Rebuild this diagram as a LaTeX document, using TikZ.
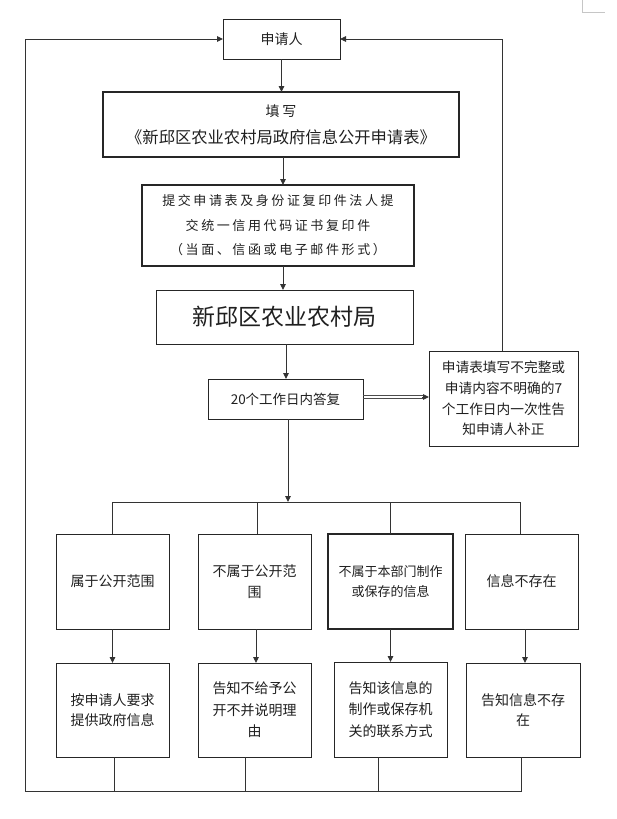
\documentclass[tikz,border=0pt]{standalone}
\usepackage{fontspec}
\setmainfont{Noto Sans CJK SC}
\newfontfamily\cjkwide[LetterSpace=20]{Noto Sans CJK SC}
\usetikzlibrary{arrows.meta}
\newcommand\fsz[2]{\fontsize{#1pt}{#2pt}\selectfont}
\begin{document}
\begin{tikzpicture}[x=1pt,y=-1pt,
  box/.style={draw=black!85, line width=0.9pt, inner sep=0pt, outer sep=0pt, align=center, text=black!88},
  thickbox/.style={box, line width=1.4pt},
  smallbox/.style={box, minimum width=113pt, minimum height=95pt, font=\fsz{14}{20.5}},
  line/.style={draw=black!80, line width=0.9pt},
  arr/.style={line, -{Triangle[length=6pt,width=5.5pt]}}
]
\useasboundingbox (0,0) rectangle (616,819);
% faint corner mark
\draw[gray!45, line width=0.6pt] (582,0) -- (582,12) -- (605,12);

% main column
\node[box, minimum width=117pt, minimum height=40pt, font=\fsz{14}{20}] (app) at (281.5,39) {申请人};
\node[thickbox, minimum width=356pt, minimum height=65pt, font=\fsz{16.3}{27}] (fill) at (281,124.5)
  {{\fsz{14}{27}填\hspace{3pt}写}\\《新邱区农业农村局政府信息公开申请表》};
\node[thickbox, minimum width=272pt, minimum height=81pt, font=\cjkwide\fsz{13}{24.5}] (submit) at (278,225.5)
  {提交申请表及身份证复印件法人提\\交统一信用代码证书复印件\\（当面、信函或电子邮件形式）};
\node[box, minimum width=257pt, minimum height=54pt, font=\fsz{23}{28}] (bureau) at (284.5,317) {新邱区农业农村局};
\node[box, minimum width=155pt, minimum height=40pt, font=\fsz{13.5}{20}] (reply) at (285.5,399) {20个工作日内答复};
\node[box, minimum width=149pt, minimum height=95pt, font=\fsz{13.7}{20.7}] (fix) at (503.5,398.5)
  {申请表填写不完整或\\申请内容不明确的7\\个工作日内一次性告\\知申请人补正};

% top row
\node[smallbox] (A) at (112.5,581.5) {属于公开范围};
\node[smallbox] (B) at (254.5,581.5) {不属于公开范\\围};
\node[smallbox, line width=1.6pt, minimum width=125pt, font=\fsz{13}{19.5}] (C) at (390.5,581.5) {不属于本部门制作\\或保存的信息};
\node[smallbox] (D) at (521.5,581.5) {信息不存在};

% bottom row
\node[smallbox, minimum height=94pt] (A2) at (112.5,710) {按申请人要求\\提供政府信息};
\node[smallbox, minimum height=94pt, font=\fsz{14}{21.5}] (B2) at (254.5,710) {告知不给予公\\开不并说明理\\由};
\node[smallbox, font=\fsz{14}{21.5}] (C2) at (390.5,709.5) {告知该信息的\\制作或保存机\\关的联系方式};
\node[smallbox, minimum width=114pt, minimum height=94pt] (D2) at (523,710) {告知信息不存\\在};

% main column arrows
\draw[arr] (app.south) -- (app.south |- fill.north);
\draw[arr] ([xshift=2pt]fill.south) -- ([xshift=2pt]fill.south |- submit.north);
\draw[arr] ([xshift=5pt]submit.south) -- ([xshift=5pt]submit.south |- bureau.north);
\draw[arr] ([xshift=1.5pt]bureau.south) -- ([xshift=1.5pt]bureau.south |- reply.north);

% double arrow to the right box
\coordinate (dblS) at ([yshift=2pt]reply.east);
\coordinate (dblE) at (dblS -| fix.west);
\draw[draw=black!70, line width=0.7pt] ([yshift=1.6pt]dblS) -- ([xshift=-5pt,yshift=1.6pt]dblE);
\draw[draw=black!70, line width=0.7pt] ([yshift=-1.6pt]dblS) -- ([xshift=-5pt,yshift=-1.6pt]dblE);
\draw[arr] ([xshift=-7pt]dblE) -- (dblE);

% branch bus
\coordinate (bus1) at (112,502);
\coordinate (bus2) at (257,502);
\coordinate (bus3) at (390,502);
\coordinate (bus4) at (520,502);
\draw[arr] ([xshift=2.5pt]reply.south) -- ([xshift=2.5pt]reply.south |- bus1);
\draw[line] (bus1) -- (bus4);
\draw[line] (bus1) -- (bus1 |- A.north);
\draw[line] (bus2) -- (bus2 |- B.north);
\draw[line] (bus3) -- (bus3 |- C.north);
\draw[line] (bus4) -- (bus4 |- D.north);

% top row to bottom row
\draw[arr] (A.south) -- (A.south |- A2.north);
\draw[arr] ([xshift=1.5pt]B.south) -- ([xshift=1.5pt]B.south |- B2.north);
\draw[arr] (C.south) -- (C.south |- C2.north);
\draw[arr] ([xshift=3.5pt]D.south) -- ([xshift=3.5pt]D.south |- D2.north);

% return loop
\coordinate (loopBL) at (25,791);
\draw[line] ([xshift=1.5pt]A2.south) -- ([xshift=1.5pt]A2.south |- loopBL);
\draw[line] ([xshift=-9.5pt]B2.south) -- ([xshift=-9.5pt]B2.south |- loopBL);
\draw[line] ([xshift=-12.5pt]C2.south) -- ([xshift=-12.5pt]C2.south |- loopBL);
\draw[arr] ([xshift=-2pt]D2.south) |- (loopBL) |- (app.west);
\draw[arr] ([xshift=-1.5pt]fix.north) |- (app.east);
\end{tikzpicture}
\end{document}
